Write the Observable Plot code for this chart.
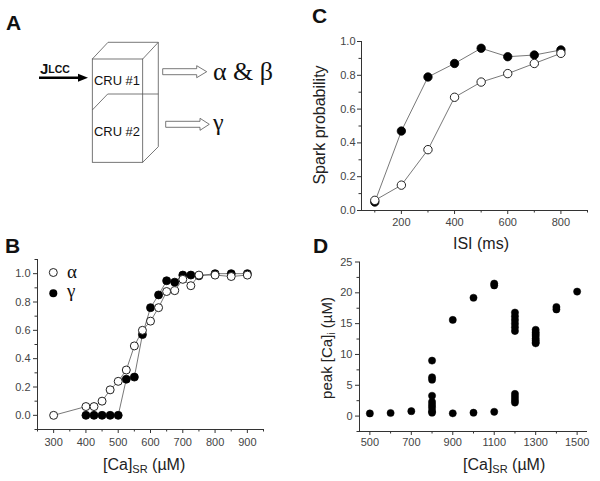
<!DOCTYPE html>
<html><head><meta charset="utf-8">
<script src="https://cdn.jsdelivr.net/npm/d3@7"></script>
<script src="https://cdn.jsdelivr.net/npm/@observablehq/plot@0.6"></script>
<style>
body{margin:0;background:#fff;}
#root{position:relative;width:600px;height:481px;overflow:hidden;background:#fff;font-family:"Liberation Sans",Arial,sans-serif;}
.panel{position:absolute;}
#overlay{position:absolute;left:0;top:0;pointer-events:none;}
</style></head><body><div id="root"></div>
<script>
// ---------- Panel B data ----------
const bAlphaX = [300,400,425,450,475,500,525,550,575,600,625,650,675,700,725,750,800,850,900];
const bAlphaY = [0,0.062,0.062,0.10,0.18,0.24,0.32,0.49,0.60,0.665,0.76,0.874,0.88,0.96,0.915,0.99,0.99,0.98,0.99];
const bGammaX = [400,425,450,475,500,525,550,575,600,625,650,675,700,725,750,800,850,900];
const bGammaY = [0,0,0,0,0,0.255,0.27,0.57,0.76,0.85,0.95,0.94,0.99,0.99,0.985,1.0,1.0,1.0];
const bXTicks = [300,400,500,600,700,800,900];
const bXMinor = [250,350,450,550,650,750,850,950];
const bYTicks = [0,0.2,0.4,0.6,0.8,1.0];
const bYMinor = [-0.1,0.1,0.3,0.5,0.7,0.9,1.1];

// ---------- Panel C data ----------
const cISI = [100,200,300,400,500,600,700,800];
const cFilled = [0.05,0.47,0.79,0.87,0.96,0.91,0.92,0.95];
const cOpen = [0.06,0.15,0.36,0.67,0.76,0.81,0.87,0.93];
const cXTicks = [200,400,600,800];
const cXMinor = [100,300,500,700,900];
const cYTicks = [0,0.2,0.4,0.6,0.8,1.0];
const cYMinor = [0.1,0.3,0.5,0.7,0.9];

// ---------- Panel D data ----------
const dCa = [500,600,700,
  800,800,800,800,800,800,800,800,800,
  900,900,1000,1000,1100,1100,1100,
  1200,1200,1200,1200,1200,1200,1200,1200,1200,1200,
  1300,1300,1300,1300,1300,1300,1300,1300,
  1400,1400,1500];
const dPeak = [0.43,0.5,0.8,
  9.0,6.3,5.9,3.3,2.3,1.8,1.35,0.8,0.55,
  15.6,0.45,19.2,0.55,21.5,21.2,0.7,
  16.8,16.2,15.6,15.0,14.4,13.8,3.6,3.1,2.6,2.2,
  14.0,13.6,13.3,13.0,12.6,12.3,12.0,11.8,
  17.7,17.3,20.2];
const dXTicks = [500,700,900,1100,1300,1500];
const dXMinor = [600,800,1000,1200,1400];
const dYTicks = [0,5,10,15,20,25];
const dYMinor = [-2.5,2.5,7.5,12.5,17.5,22.5];

const root = document.getElementById("root");
const AX = "#333";

function axes(xDom, yDom, xT, xM, yT, yM, xFmt, yFmt, o) {
  return [
    Plot.ruleX([xDom[0]], {stroke: AX, strokeWidth: 1}),
    Plot.ruleY([yDom[0]], {stroke: AX, strokeWidth: 1}),
    Plot.axisX(xT, {tickSize: 4, tickPadding: o.xPad, tickFormat: xFmt, fill: "#444", stroke: AX, label: null}),
    Plot.axisX(xM, {tickSize: 2.5, tickFormat: () => "", stroke: AX, label: null}),
    Plot.axisY(yT, {tickSize: 4, tickPadding: o.yPad, tickFormat: yFmt, fill: "#444", stroke: AX, label: null}),
    Plot.axisY(yM, {tickSize: 2.5, tickFormat: () => "", stroke: AX, label: null})
  ];
}

function place(svg, left, top) {
  const d = document.createElement("div");
  d.className = "panel";
  d.style.left = left + "px"; d.style.top = top + "px";
  d.appendChild(svg);
  root.appendChild(d);
}
const f1 = d3.format(".1f");
const baseStyle = {fontSize: "11px", fontFamily: "Liberation Sans, Arial, sans-serif", background: "transparent", color: AX, overflow: "visible"};

// ---------- Panel B ----------
const bDomX = [250, 950], bDomY = [-0.1, 1.1];
const bA = bAlphaX.map((x, i) => ({x, y: bAlphaY[i]}));
const bG = bGammaX.map((x, i) => ({x, y: bGammaY[i]}));
place(Plot.plot({
  width: 300, height: 251,
  marginLeft: 37, marginRight: 37, marginTop: 29, marginBottom: 52,
  x: {domain: bDomX, label: null}, y: {domain: bDomY, label: null},
  style: baseStyle,
  marks: [
    ...axes(bDomX, bDomY, bXTicks, bXMinor, bYTicks, bYMinor, d => String(d), f1, {xPad: 5, yPad: 3}),
    Plot.line(bG, {x: "x", y: "y", stroke: "#555", strokeWidth: 0.8}),
    Plot.line(bA, {x: "x", y: "y", stroke: "#555", strokeWidth: 0.8}),
    Plot.dot(bG, {x: "x", y: "y", r: 4, fill: "#000", stroke: "#000", strokeWidth: 0.8}),
    Plot.dot(bA, {x: "x", y: "y", r: 4, fill: "#fff", stroke: "#222", strokeWidth: 1})
  ]
}), 0, 230);

// ---------- Panel C ----------
const cDomX = [50, 900], cDomY = [0, 1];
const cF = cISI.map((x, i) => ({x, y: cFilled[i]}));
const cO = cISI.map((x, i) => ({x, y: cOpen[i]}));
place(Plot.plot({
  width: 300, height: 250,
  marginLeft: 61, marginRight: 13, marginTop: 41, marginBottom: 40,
  x: {domain: cDomX, label: null}, y: {domain: cDomY, label: null},
  style: baseStyle,
  marks: [
    ...axes(cDomX, cDomY, cXTicks, cXMinor, cYTicks, cYMinor, d => String(d), f1, {xPad: 4, yPad: 2}),
    Plot.line(cF, {x: "x", y: "y", stroke: "#555", strokeWidth: 0.8}),
    Plot.line(cO, {x: "x", y: "y", stroke: "#555", strokeWidth: 0.8}),
    Plot.dot(cF, {x: "x", y: "y", r: 4.2, fill: "#000", stroke: "#000", strokeWidth: 0.8}),
    Plot.dot(cO, {x: "x", y: "y", r: 4.2, fill: "#fff", stroke: "#222", strokeWidth: 1})
  ]
}), 300, 0);

// ---------- Panel D ----------
const dDomX = [450, 1550], dDomY = [-2.5, 25];
const dPts = dCa.map((x, i) => ({x, y: dPeak[i]}));
place(Plot.plot({
  width: 300, height: 231,
  marginLeft: 59, marginRight: 13, marginTop: 11.5, marginBottom: 50,
  x: {domain: dDomX, label: null}, y: {domain: dDomY, label: null},
  style: baseStyle,
  marks: [
    ...axes(dDomX, dDomY, dXTicks, dXMinor, dYTicks, dYMinor, d => String(d), d => String(d), {xPad: 3, yPad: 3}),
    Plot.dot(dPts, {x: "x", y: "y", r: 3.6, fill: "#000", stroke: "#000", strokeWidth: 0.5})
  ]
}), 300, 250);

// ---------- Overlay: panel A diagram, labels, legend, axis titles ----------
const NS = "http://www.w3.org/2000/svg";
const ov = document.createElementNS(NS, "svg");
ov.setAttribute("id", "overlay");
ov.setAttribute("width", 600); ov.setAttribute("height", 481);
ov.innerHTML = `
<g font-family="Liberation Sans, Arial, sans-serif" fill="#111">
  <text x="6" y="30" font-size="21" font-weight="bold">A</text>
  <text x="312" y="23" font-size="21" font-weight="bold">C</text>
  <text x="5" y="253" font-size="21" font-weight="bold">B</text>
  <text x="313" y="253" font-size="21" font-weight="bold">D</text>
</g>
<g fill="none" stroke="#555" stroke-width="0.8">
  <rect x="92.3" y="59" width="50.4" height="103.3"/>
  <polyline points="92.3,59 108,42.3 158.3,42.3 142.7,59"/>
  <polyline points="158.3,42.3 158.3,146.7 142.7,162.3"/>
  <polyline points="92.3,110 107.7,94 158.3,94"/>
  <polygon points="162.7,68.7 196.7,68.7 196.7,65.7 206.7,71.7 196.7,77.7 196.7,74.7 162.7,74.7" fill="#fff"/>
  <polygon points="165.7,121.3 200,121.3 200,118.3 209.3,124.3 200,130.3 200,127.3 165.7,127.3" fill="#fff"/>
</g>
<line x1="39" y1="77.7" x2="80" y2="77.7" stroke="#000" stroke-width="2.4"/>
<polygon points="78,73.7 88,77.7 78,81.7" fill="#000"/>
<g font-family="Liberation Sans, Arial, sans-serif" fill="#111">
  <text x="40" y="74" font-size="15" font-weight="bold">J<tspan font-size="10.5" dy="-1">LCC</tspan></text>
  <text x="94" y="85" font-size="13" textLength="46" lengthAdjust="spacingAndGlyphs">CRU #1</text>
  <text x="94" y="136" font-size="13" textLength="46" lengthAdjust="spacingAndGlyphs">CRU #2</text>
</g>
<g font-family="Liberation Serif, Times New Roman, serif" fill="#111">
  <text x="213" y="80" font-size="26">α &amp; β</text>
  <text x="213" y="130" font-size="24">γ</text>
  <text x="67" y="278" font-size="19">α</text>
  <text x="67" y="297" font-size="19">γ</text>
</g>
<circle cx="53.3" cy="272.5" r="4" fill="#fff" stroke="#222" stroke-width="1"/>
<circle cx="53.3" cy="293.3" r="4" fill="#000"/>
<g font-family="Liberation Sans, Arial, sans-serif" fill="#222" font-size="16">
  <text transform="translate(325,125) rotate(-90)" text-anchor="middle">Spark probability</text>
  <text x="481" y="249" text-anchor="middle">ISI (ms)</text>
  <text x="103" y="470">[Ca]<tspan font-size="11" dy="3">SR</tspan><tspan dy="-3"> (µM)</tspan></text>
  <text x="463" y="470">[Ca]<tspan font-size="11" dy="3">SR</tspan><tspan dy="-3"> (µM)</tspan></text>
  <text transform="translate(332,348) rotate(-90)" text-anchor="middle" font-size="15">peak [Ca]<tspan font-size="10" dy="3">i</tspan><tspan dy="-3"> (µM)</tspan></text>
</g>`;
root.appendChild(ov);
</script></body></html>
